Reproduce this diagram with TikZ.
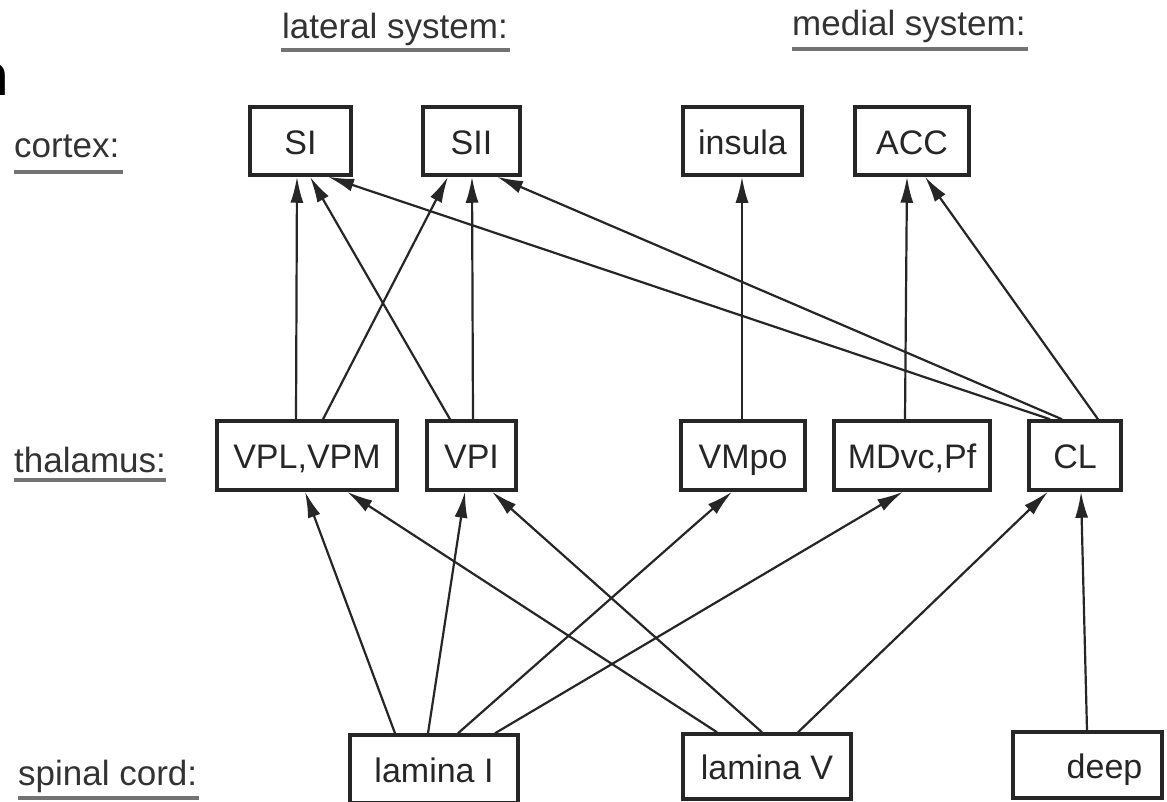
\documentclass[tikz,border=0pt]{standalone}
\usepackage{fontspec}
\setmainfont{Liberation Sans}
\usetikzlibrary{arrows.meta,calc}
\begin{document}
\begin{tikzpicture}[x=1pt,y=-1pt,
  box/.style={draw=black!85, line width=3.5pt, inner sep=0pt, text height=26pt, text depth=0pt, font=\fontsize{34}{40}\selectfont, text=black!85},
  arr/.style={draw=black!85, line width=2.2pt, -{Latex[length=26pt,width=13pt]}},
  lbl/.style={font=\fontsize{35}{42}\selectfont, text=black!80, inner sep=0pt, anchor=base west},
  uline/.style={draw=black!55, line width=4pt}]
\useasboundingbox[fill=white] (0,0) rectangle (1167,801);

% fragment of panel letter at the left edge
\node[inner sep=0pt, anchor=base east, font=\fontsize{58}{60}\selectfont\bfseries] (frag) at (9,95) {n};

% header and row labels
\node[lbl] (llat) at (282,38) {lateral system:};
\node[lbl] (lmed) at (792,35) {medial system:};
\node[lbl] (lc) at (14,157) {cortex:};
\node[lbl] (lt) at (14,472) {thalamus:};
\node[lbl] (ls) at (18,785) {spinal cord:};
\draw[uline] ($(llat.base west)+(-1,12)$) -- ($(llat.base east)+(2,12)$);
\draw[uline] ($(lmed.base west)+(0,14)$) -- ($(lmed.base east)+(2,14)$);
\draw[uline] ($(lc.base west)+(0,15)$) -- ($(lc.base east)+(4,15)$);
\draw[uline] ($(lt.base west)+(0,8)$) -- ($(lt.base east)+(0,8)$);
\draw[uline] ($(ls.base west)+(0,13)$) -- ($(ls.base east)+(2,13)$);

% cortex
\node[box, minimum width=101pt, minimum height=68pt] (si) at (300.5,141) {SI};
\node[box, minimum width=97pt, minimum height=68pt] (sii) at (471.5,141) {SII};
\node[box, minimum width=119pt, minimum height=68pt] (ins) at (742.5,141) {insula};
\node[box, minimum width=114pt, minimum height=68pt] (acc) at (912,141) {ACC};

% thalamus
\node[box, minimum width=180pt, minimum height=69pt] (vpl) at (307,455.5) {VPL,VPM};
\node[box, minimum width=89pt, minimum height=69pt] (vpi) at (471.5,455.5) {VPI};
\node[box, minimum width=124pt, minimum height=69pt] (vmpo) at (743,455.5) {VMpo};
\node[box, minimum width=156pt, minimum height=69pt] (mdvc) at (912,455.5) {MDvc,Pf};
\node[box, minimum width=92pt, minimum height=69pt] (cl) at (1075,455.5) {CL};

% spinal cord
\node[box, minimum width=168pt, minimum height=68pt] (lami) at (434,769) {lamina I};
\node[box, minimum width=168pt, minimum height=65pt] (lamv) at (767,766.5) {lamina V};
\node[box, minimum width=149pt, minimum height=66pt] (deep) at (1087.5,765) {\hspace*{34pt}deep};

% spinal cord -> thalamus
\draw[arr] ([xshift=-39pt]lami.north) -- ([xshift=-2pt]vpl.south);
\draw[arr] ([xshift=-50pt]lamv.north) -- ([xshift=40pt]vpl.south);
\draw[arr] ([xshift=-6pt]lami.north) -- ([xshift=-6.5pt]vpi.south);
\draw[arr] ([xshift=-5pt]lamv.north) -- ([xshift=20.5pt]vpi.south);
\draw[arr] ([xshift=24pt]lami.north) -- ([xshift=-11pt]vmpo.south);
\draw[arr] ([xshift=61pt]lami.north) -- ([xshift=-9pt]mdvc.south);
\draw[arr] ([xshift=31pt]lamv.north) -- ([xshift=-27pt]cl.south);
\draw[arr] ([xshift=-0.5pt]deep.north) -- ([xshift=6pt]cl.south);

% thalamus -> cortex
\draw[arr] ([xshift=-11pt]vpl.north) -- ([xshift=-3.5pt]si.south);
\draw[arr] ([xshift=16pt]vpl.north) -- ([xshift=-23.5pt]sii.south);
\draw[arr] ([xshift=-21.5pt]vpi.north) -- ([xshift=9.5pt]si.south);
\draw[arr] ([xshift=1.5pt]vpi.north) -- ([xshift=0.5pt]sii.south);
\draw[arr] ([xshift=-1pt]vmpo.north) -- ([xshift=-0.5pt]ins.south);
\draw[arr] ([xshift=-7pt]mdvc.north) -- ([xshift=-5pt]acc.south);
\draw[arr] ([xshift=23pt]cl.north) -- ([xshift=13pt]acc.south);
\draw[arr] ([xshift=-25pt]cl.north) -- ([xshift=27.5pt]si.south);
\draw[arr] ([xshift=-13pt]cl.north) -- ([xshift=25.5pt]sii.south);
\end{tikzpicture}
\end{document}
